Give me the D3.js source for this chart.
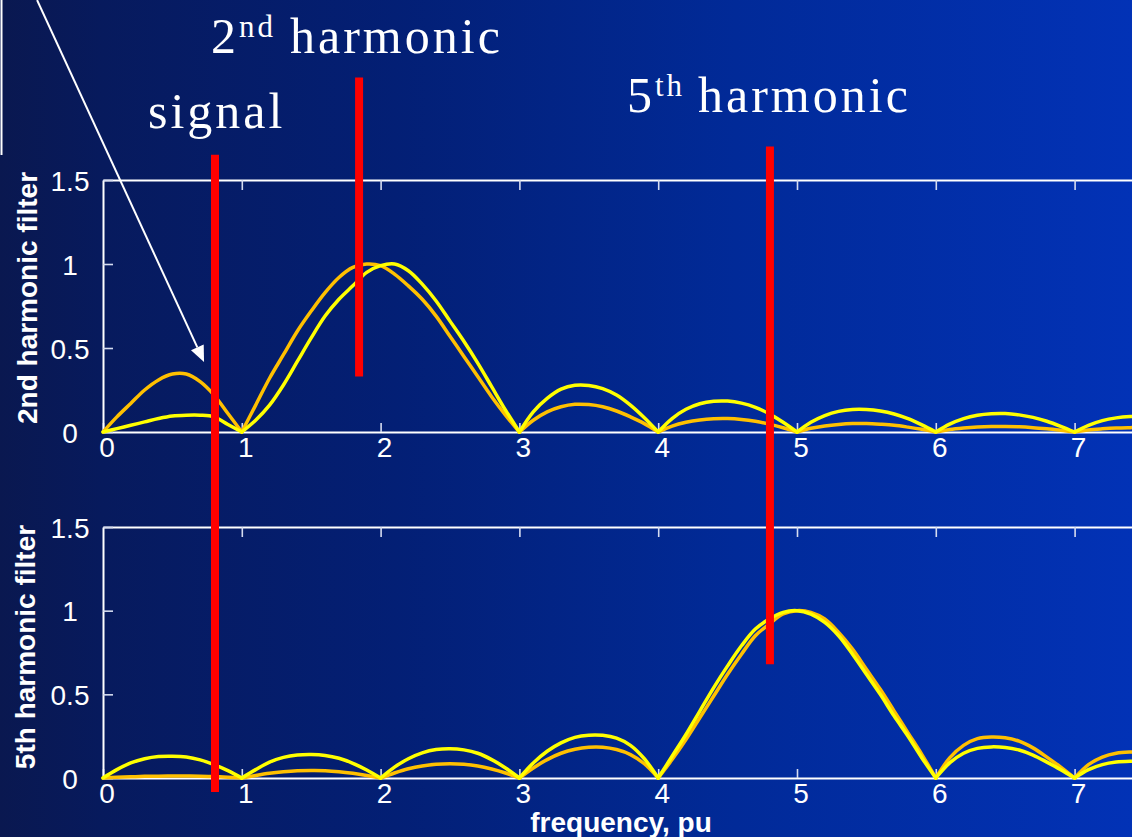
<!DOCTYPE html>
<html>
<head>
<meta charset="utf-8">
<script src="https://cdn.jsdelivr.net/npm/d3@7"></script>
<style>
  html, body { margin: 0; padding: 0; background: #061a5c; overflow: hidden; }
  svg { display: block; }
</style>
</head>
<body>
<svg id="chart" width="1132" height="837"></svg>
<script>
// Frequency samples (per unit of fundamental)
const freq = [
  0.0,0.1,0.2,0.3,0.4,0.5,0.6,0.7,0.8,0.9,
  1.0,1.1,1.2,1.3,1.4,1.5,1.6,1.7,1.8,1.9,
  2.0,2.1,2.2,2.3,2.4,2.5,2.6,2.7,2.8,2.9,
  3.0,3.1,3.2,3.3,3.4,3.5,3.6,3.7,3.8,3.9,
  4.0,4.1,4.2,4.3,4.4,4.5,4.6,4.7,4.8,4.9,
  5.0,5.1,5.2,5.3,5.4,5.5,5.6,5.7,5.8,5.9,
  6.0,6.1,6.2,6.3,6.4,6.5,6.6,6.7,6.8,6.9,
  7.0,7.1,7.2,7.3,7.4,7.5
];

// 2nd harmonic filter gain, yellow trace
const h2Yellow = [
  0,0.02,0.04,0.06,0.08,0.095,0.10,0.10,0.09,0.045,
  0,0.07,0.16,0.28,0.42,0.56,0.69,0.79,0.87,0.95,
  0.99,1.0,0.96,0.88,0.78,0.66,0.54,0.41,0.27,0.13,
  0,0.12,0.20,0.255,0.278,0.277,0.258,0.22,0.16,0.085,
  0,0.08,0.135,0.168,0.183,0.184,0.172,0.147,0.108,0.058,
  0,0.058,0.098,0.123,0.134,0.134,0.125,0.107,0.079,0.042,
  0,0.047,0.08,0.10,0.109,0.11,0.102,0.087,0.064,0.034,
  0,0.04,0.068,0.084,0.092,0.094
];

// 2nd harmonic filter gain, orange trace
const h2Orange = [
  0,0.09,0.17,0.25,0.31,0.345,0.345,0.30,0.22,0.11,
  0,0.16,0.32,0.46,0.60,0.72,0.83,0.92,0.98,1.0,
  0.99,0.94,0.87,0.79,0.69,0.57,0.45,0.33,0.21,0.10,
  0,0.07,0.12,0.15,0.165,0.163,0.15,0.125,0.09,0.05,
  0,0.035,0.058,0.072,0.079,0.08,0.075,0.064,0.047,0.025,
  0,0.022,0.036,0.045,0.05,0.05,0.046,0.04,0.029,0.016,
  0,0.015,0.024,0.03,0.033,0.033,0.031,0.026,0.019,0.011,
  0,0.012,0.019,0.024,0.026,0.027
];

// 5th harmonic filter gain, yellow trace
const h5Yellow = [
  0,0.05,0.09,0.115,0.128,0.13,0.125,0.108,0.08,0.044,
  0,0.05,0.095,0.123,0.137,0.14,0.135,0.118,0.088,0.048,
  0,0.065,0.115,0.15,0.17,0.175,0.168,0.148,0.11,0.06,
  0,0.09,0.16,0.21,0.243,0.256,0.255,0.238,0.195,0.115,
  0,0.13,0.26,0.40,0.54,0.67,0.79,0.89,0.95,0.99,
  1.0,0.98,0.93,0.85,0.74,0.62,0.50,0.37,0.25,0.12,
  0,0.09,0.148,0.177,0.186,0.182,0.167,0.137,0.095,0.05,
  0,0.05,0.08,0.095,0.10,0.10
];

// 5th harmonic filter gain, orange trace
const h5Orange = [
  0,0.004,0.007,0.01,0.011,0.012,0.012,0.011,0.009,0.005,
  0,0.015,0.028,0.037,0.043,0.045,0.044,0.038,0.028,0.015,
  0,0.03,0.055,0.072,0.082,0.085,0.082,0.072,0.054,0.03,
  0,0.06,0.11,0.148,0.172,0.184,0.184,0.17,0.14,0.085,
  0,0.11,0.23,0.36,0.49,0.62,0.74,0.85,0.92,0.98,
  1.0,0.99,0.95,0.87,0.77,0.65,0.53,0.40,0.27,0.14,
  0,0.12,0.195,0.235,0.245,0.24,0.22,0.18,0.125,0.065,
  0,0.08,0.125,0.148,0.155,0.155
];

const xTicks = [0,1,2,3,4,5,6,7];
const yTicks = [0,0.5,1,1.5];
const yTickLabels = ["0","0.5","1","1.5"];

// Red frequency markers: position, top end (upper-panel units), bottom end
const markerFreq = [0.807, 1.845, 4.805];
const markerTop = [1.65, 2.11, 1.70];
const markerBottomPanel = ["bottom", "top", "bottom"];
const markerBottom = [-0.084, 0.33, 0.68];

// Pointer arrow (upper-panel units): start and tip
const arrowFrom = [-0.475, 2.571];
const arrowTo = [0.728, 0.417];

const W = 1132, H = 837;
const svg = d3.select("#chart");

// Background: horizontal blue gradient
const defs = svg.append("defs");
const bg = defs.append("linearGradient").attr("id", "bg")
  .attr("x1", "0").attr("x2", "1").attr("y1", "0").attr("y2", "0");
[["0%", "#0a1850"], ["9%", "#071a5d"], ["35%", "#031f75"], ["65%", "#012a98"], ["100%", "#0232b6"]]
  .forEach(([o, c]) => bg.append("stop").attr("offset", o).attr("stop-color", c));
svg.append("rect").attr("width", W).attr("height", H).attr("fill", "url(#bg)");

const sans = "'Liberation Sans', Arial, sans-serif";
const serif = "'Liberation Serif', 'Times New Roman', serif";

const x = d3.scaleLinear().domain([0, 7.5]).range([103, 103 + 7.5 * 138.8]);

const panels = [
  { key: "top", label: "2nd harmonic filter", labelPos: [37, 298],
    y: d3.scaleLinear().domain([0, 1.5]).range([432, 180]),
    series: [[h2Orange, "#ffc000"], [h2Yellow, "#ffff00"]] },
  { key: "bottom", label: "5th harmonic filter", labelPos: [35, 647],
    y: d3.scaleLinear().domain([0, 1.5]).range([778, 527]),
    series: [[h5Orange, "#ffc000"], [h5Yellow, "#ffff00"]] }
];
const panelY = { top: panels[0].y, bottom: panels[1].y };

// Split a trace into lobes at its zero crossings so each null stays sharp
function lobes(values) {
  const segs = [];
  let cur = [];
  values.forEach((v, i) => {
    cur.push([freq[i], v]);
    if (v === 0 && cur.length > 1) { segs.push(cur); cur = [[freq[i], v]]; }
  });
  if (cur.length > 1) segs.push(cur);
  return segs;
}

const tickColor = "#d6dcf0";

panels.forEach(p => {
  const g = svg.append("g");

  // top frame line with downward ticks
  const topAxis = g.append("g").attr("transform", `translate(0,${p.y(1.5)})`)
    .call(d3.axisTop(x).tickValues(xTicks.slice(1)).tickSizeInner(-10).tickSizeOuter(0).tickFormat(""));
  // bottom axis with upward ticks
  const botAxis = g.append("g").attr("transform", `translate(0,${p.y(0)})`)
    .call(d3.axisBottom(x).tickValues(xTicks).tickSizeInner(-9).tickSizeOuter(0).tickPadding(5));
  // left axis
  const leftAxis = g.append("g").attr("transform", `translate(${x(0)},0)`)
    .call(d3.axisLeft(p.y).tickValues(yTicks).tickSizeInner(-10).tickSizeOuter(0)
      .tickFormat((d, i) => yTickLabels[i]));

  [topAxis, botAxis, leftAxis].forEach(a => {
    a.select(".domain").attr("stroke", "#ffffff").attr("stroke-width", 2);
    a.selectAll(".tick line").attr("stroke", tickColor).attr("stroke-width", 1.6);
    a.selectAll("text").attr("fill", "#ffffff").style("font-family", sans).style("font-size", "28px");
  });
  botAxis.selectAll(".tick text").attr("dx", 3.5);
  leftAxis.selectAll(".tick text").attr("text-anchor", "middle").attr("x", 70 - x(0)).attr("dy", "0.36em");

  // filter responses
  p.series.forEach(([vals, color]) => {
    const line = d3.line().x(d => x(d[0])).y(d => p.y(d[1])).curve(d3.curveCatmullRom.alpha(0.5));
    g.append("g").selectAll("path").data(lobes(vals)).join("path")
      .attr("d", line).attr("fill", "none").attr("stroke", color)
      .attr("stroke-width", 3.5).attr("stroke-linejoin", "round").attr("stroke-linecap", "round");
  });

  // rotated axis title
  svg.append("text")
    .attr("transform", `translate(${p.labelPos[0]},${p.labelPos[1]}) rotate(-90)`)
    .attr("text-anchor", "middle").attr("fill", "#ffffff")
    .style("font-family", sans).style("font-size", "28px").style("font-weight", "bold")
    .text(p.label);
});

// x axis title
svg.append("text").attr("x", 621).attr("y", 832).attr("text-anchor", "middle")
  .attr("fill", "#ffffff").style("font-family", sans).style("font-size", "28px").style("font-weight", "bold")
  .text("frequency, pu");

// red frequency markers
svg.append("g").selectAll("line").data(markerFreq).join("line")
  .attr("x1", d => x(d)).attr("x2", d => x(d))
  .attr("y1", (d, i) => panelY.top(markerTop[i]))
  .attr("y2", (d, i) => panelY[markerBottomPanel[i]](markerBottom[i]))
  .attr("stroke", "#ff0000").attr("stroke-width", 8);

// pointer arrow
const ax1 = x(arrowFrom[0]), ay1 = panelY.top(arrowFrom[1]);
const ax2 = x(arrowTo[0]), ay2 = panelY.top(arrowTo[1]);
const ang = Math.atan2(ay2 - ay1, ax2 - ax1);
const headLen = 16, headHalf = 7;
const bx = ax2 - headLen * Math.cos(ang), by = ay2 - headLen * Math.sin(ang);
svg.append("line").attr("x1", ax1).attr("y1", ay1).attr("x2", bx).attr("y2", by)
  .attr("stroke", "#ffffff").attr("stroke-width", 2);
svg.append("path")
  .attr("d", `M${ax2},${ay2}L${bx - headHalf * Math.sin(ang)},${by + headHalf * Math.cos(ang)}L${bx + headHalf * Math.sin(ang)},${by - headHalf * Math.cos(ang)}Z`)
  .attr("fill", "#ffffff");

// box edge at the upper left
svg.append("line").attr("x1", 1.5).attr("x2", 1.5).attr("y1", 0).attr("y2", 155)
  .attr("stroke", "#ffffff").attr("stroke-width", 2);

// serif annotations
function heading(xPos, yPos, main, sup, rest, restX) {
  const t = svg.append("text").attr("x", xPos).attr("y", yPos).attr("fill", "#ffffff")
    .style("font-family", serif).style("font-size", "50px").style("letter-spacing", "3px");
  t.append("tspan").text(main);
  if (sup) {
    t.append("tspan").attr("dy", -16).style("font-size", "31px").text(sup);
    t.append("tspan").attr("x", restX).attr("dy", 16).text(rest);
  }
  return t;
}
heading(211, 53, "2", "nd", "harmonic", 290);
heading(148, 128, "signal");
heading(627, 112, "5", "th", "harmonic", 698);
</script>
</body>
</html>
